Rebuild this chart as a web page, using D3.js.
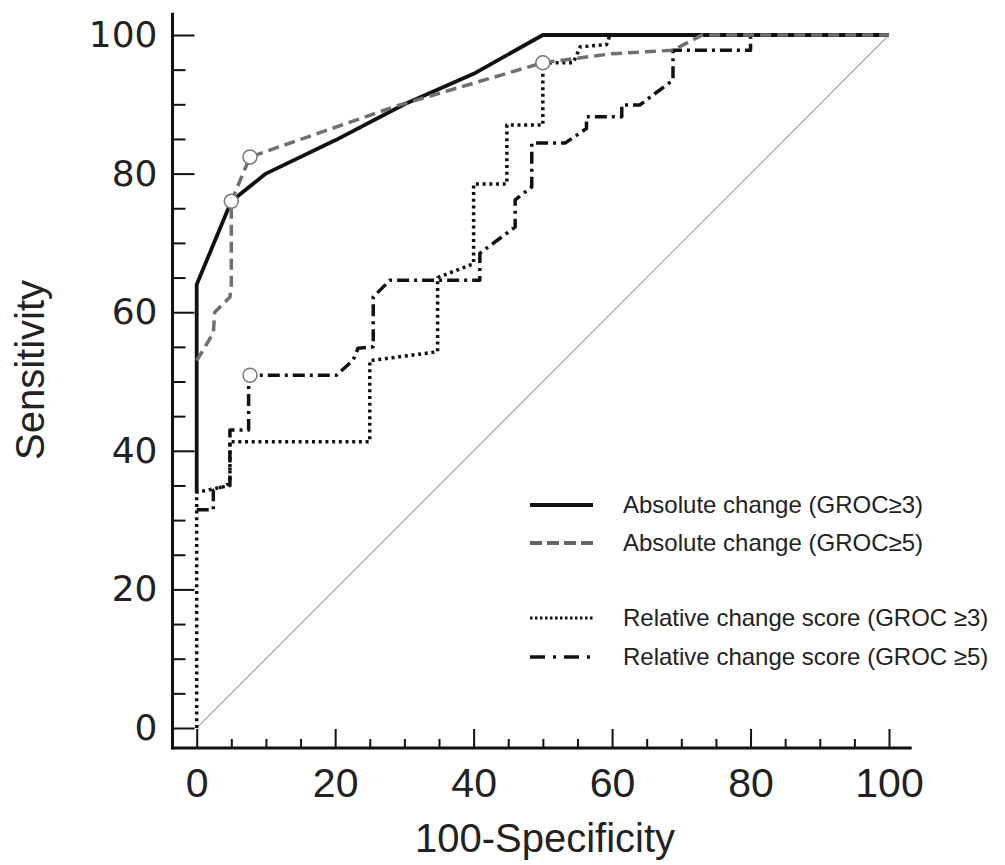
<!DOCTYPE html>
<html lang="en">
<head>
<meta charset="UTF-8" />
<title>ROC curves</title>
<script src="https://d3js.org/d3.v7.min.js"></script>
<style>
    body { margin: 0; background: #fff; }
</style>
</head>
<body>
<script>
    var w = 1005;
    var h = 865;

    // Absolute change (GROC>=3) - solid
    var fprAbs3  = [0, 0, 5, 10, 20, 30, 40, 50, 100];
    var sensAbs3 = [34, 64, 76, 80, 84.8, 90, 94.4, 100, 100];

    // Absolute change (GROC>=5) - grey dashed
    var fprAbs5  = [0, 2.4, 2.6, 4.8, 5, 5, 7.7, 29, 50, 60, 68.8, 73, 100];
    var sensAbs5 = [53, 57, 60, 62.2, 64, 76, 82.4, 89.8, 96, 97.3, 97.8, 100, 100];

    // Relative change score (GROC >=3) - dotted
    var fprRel3  = [0, 0, 4.8, 4.8, 25, 25, 34.8, 34.8, 40, 40, 44.8, 44.8, 50, 50, 54.4, 55.4, 59.2, 59.7, 100];
    var sensRel3 = [0, 34, 35, 41.3, 41.3, 53, 54.3, 65, 67, 78.5, 78.5, 87, 87, 96, 96, 98.3, 98.6, 100, 100];

    // Relative change score (GROC >=5) - dash dot (lower part hidden under the dotted curve)
    var fprRel5  = [0, 2.4, 2.4, 4.8, 4.8, 7.5, 7.5, 20.2, 22.6, 23.3, 25.5, 25.5, 27.9, 40.9, 40.9, 46, 46, 48.4, 48.4, 53.2, 56.3, 56.3, 61.4, 61.4, 64, 68.8, 68.8, 80, 80, 100];
    var sensRel5 = [31.5, 31.5, 34.3, 35.3, 43, 43, 50.9, 50.9, 53.1, 54.8, 55, 62.2, 64.6, 64.6, 68.5, 72.3, 76.2, 78.1, 84.4, 84.4, 86.5, 88.2, 88.2, 89.9, 89.9, 93.5, 97.8, 97.8, 100, 100];

    // optimal cut-off markers
    var markerX = [5, 7.7, 50, 7.7];
    var markerY = [76, 82.4, 96, 50.9];

    var legendLabels = [
        "Absolute change (GROC\u22653)",
        "Absolute change (GROC\u22655)",
        "Relative change score (GROC \u22653)",
        "Relative change score (GROC \u22655)"
    ];

    var svg = d3.select("body")
                .append("svg")
                .attr("width", w)
                .attr("height", h);

    var xScale = d3.scaleLinear().domain([0, 100]).range([196.7, 889]);
    var yScale = d3.scaleLinear().domain([0, 100]).range([728, 35]);

    function pairs(xs, ys) {
        return xs.map(function(d, i) { return [d, ys[i]]; });
    }

    var line = d3.line()
        .x(function(d) { return xScale(d[0]); })
        .y(function(d) { return yScale(d[1]); });

    // x axis
    var xAxis = d3.axisBottom(xScale)
        .tickValues(d3.range(0, 101, 5))
        .tickSize(-19)
        .tickFormat(function(d) { return d % 20 === 0 ? d : ""; });
    var gx = svg.append("g")
        .attr("transform", "translate(0,748)")
        .call(xAxis);
    gx.select(".domain").remove();
    gx.selectAll(".tick line")
        .attr("y2", function(d) { return d % 20 === 0 ? -19 : -9; })
        .attr("stroke", "#111")
        .attr("stroke-width", 2);
    gx.selectAll(".tick text")
        .attr("y", 49)
        .attr("dy", null)
        .attr("fill", "#222")
        .style("font-family", "'Liberation Sans', Arial, sans-serif")
        .style("font-size", "41px");

    // y axis
    var yAxis = d3.axisLeft(yScale)
        .tickValues(d3.range(0, 101, 5))
        .tickSize(-22)
        .tickFormat(function(d) { return d % 20 === 0 ? d : ""; });
    var gy = svg.append("g")
        .attr("transform", "translate(172.5,0)")
        .call(yAxis);
    gy.select(".domain").remove();
    gy.selectAll(".tick line")
        .attr("x2", function(d) { return d % 20 === 0 ? 22 : 13; })
        .attr("stroke", "#111")
        .attr("stroke-width", 2);
    gy.selectAll(".tick text")
        .attr("x", -15)
        .attr("fill", "#222")
        .style("font-family", "'DejaVu Sans', sans-serif")
        .style("font-size", "36px");

    svg.append("line")
        .attr("x1", 172.5).attr("x2", 911.7)
        .attr("y1", 748).attr("y2", 748)
        .attr("stroke", "#111").attr("stroke-width", 3);
    svg.append("line")
        .attr("x1", 172.5).attr("x2", 172.5)
        .attr("y1", 12.7).attr("y2", 749.5)
        .attr("stroke", "#111").attr("stroke-width", 3);

    // axis titles
    svg.append("text")
        .attr("x", 545)
        .attr("y", 852)
        .attr("text-anchor", "middle")
        .attr("fill", "#222")
        .style("font-family", "'Liberation Sans', Arial, sans-serif")
        .style("font-size", "40px")
        .text("100-Specificity");

    svg.append("text")
        .attr("transform", "translate(44,370) rotate(-90)")
        .attr("text-anchor", "middle")
        .attr("fill", "#222")
        .style("font-family", "'Liberation Sans', Arial, sans-serif")
        .style("font-size", "40px")
        .text("Sensitivity");

    // reference diagonal
    svg.append("path")
        .datum(pairs([0, 100], [0, 100]))
        .attr("d", line)
        .attr("fill", "none")
        .attr("stroke", "#aaa")
        .attr("stroke-width", 1.2);

    var series = [
        { data: pairs(fprRel5, sensRel5), color: "#111", width: 3.5, dash: "12,5,3,5" },
        { data: pairs(fprRel3, sensRel3), color: "#111", width: 3.5, dash: "3,3.7" },
        { data: pairs(fprAbs3, sensAbs3), color: "#111", width: 3.8, dash: null },
        { data: pairs(fprAbs5, sensAbs5), color: "#707070", width: 3.5, dash: "11,6" }
    ];

    svg.selectAll(".curve")
        .data(series)
        .enter()
        .append("path")
        .attr("class", "curve")
        .attr("d", function(d) { return line(d.data); })
        .attr("fill", "none")
        .attr("stroke", function(d) { return d.color; })
        .attr("stroke-width", function(d) { return d.width; })
        .attr("stroke-dasharray", function(d) { return d.dash; })
        .attr("stroke-linejoin", "round");

    svg.selectAll(".marker")
        .data(pairs(markerX, markerY))
        .enter()
        .append("circle")
        .attr("class", "marker")
        .attr("cx", function(d) { return xScale(d[0]); })
        .attr("cy", function(d) { return yScale(d[1]); })
        .attr("r", 7)
        .attr("fill", "#fff")
        .attr("stroke", "#777")
        .attr("stroke-width", 1.5);

    // legend
    var legendY = [505, 543, 618, 657];
    var legendStyle = [
        { color: "#111", width: 4, dash: null },
        { color: "#666", width: 4, dash: "12,5" },
        { color: "#111", width: 3, dash: "2.5,2.5" },
        { color: "#111", width: 3.5, dash: "15,8,3,8" }
    ];

    var legend = svg.selectAll(".legend")
        .data(legendLabels)
        .enter()
        .append("g")
        .attr("class", "legend")
        .attr("transform", function(d, i) { return "translate(0," + legendY[i] + ")"; });

    legend.append("line")
        .attr("x1", 530).attr("x2", 593)
        .attr("y1", 0).attr("y2", 0)
        .attr("stroke", function(d, i) { return legendStyle[i].color; })
        .attr("stroke-width", function(d, i) { return legendStyle[i].width; })
        .attr("stroke-dasharray", function(d, i) { return legendStyle[i].dash; });

    legend.append("text")
        .attr("x", 623)
        .attr("y", 0)
        .attr("dy", "0.35em")
        .attr("fill", "#222")
        .style("font-family", "'Liberation Sans', Arial, sans-serif")
        .style("font-size", "24px")
        .text(function(d) { return d; });
</script>
</body>
</html>
